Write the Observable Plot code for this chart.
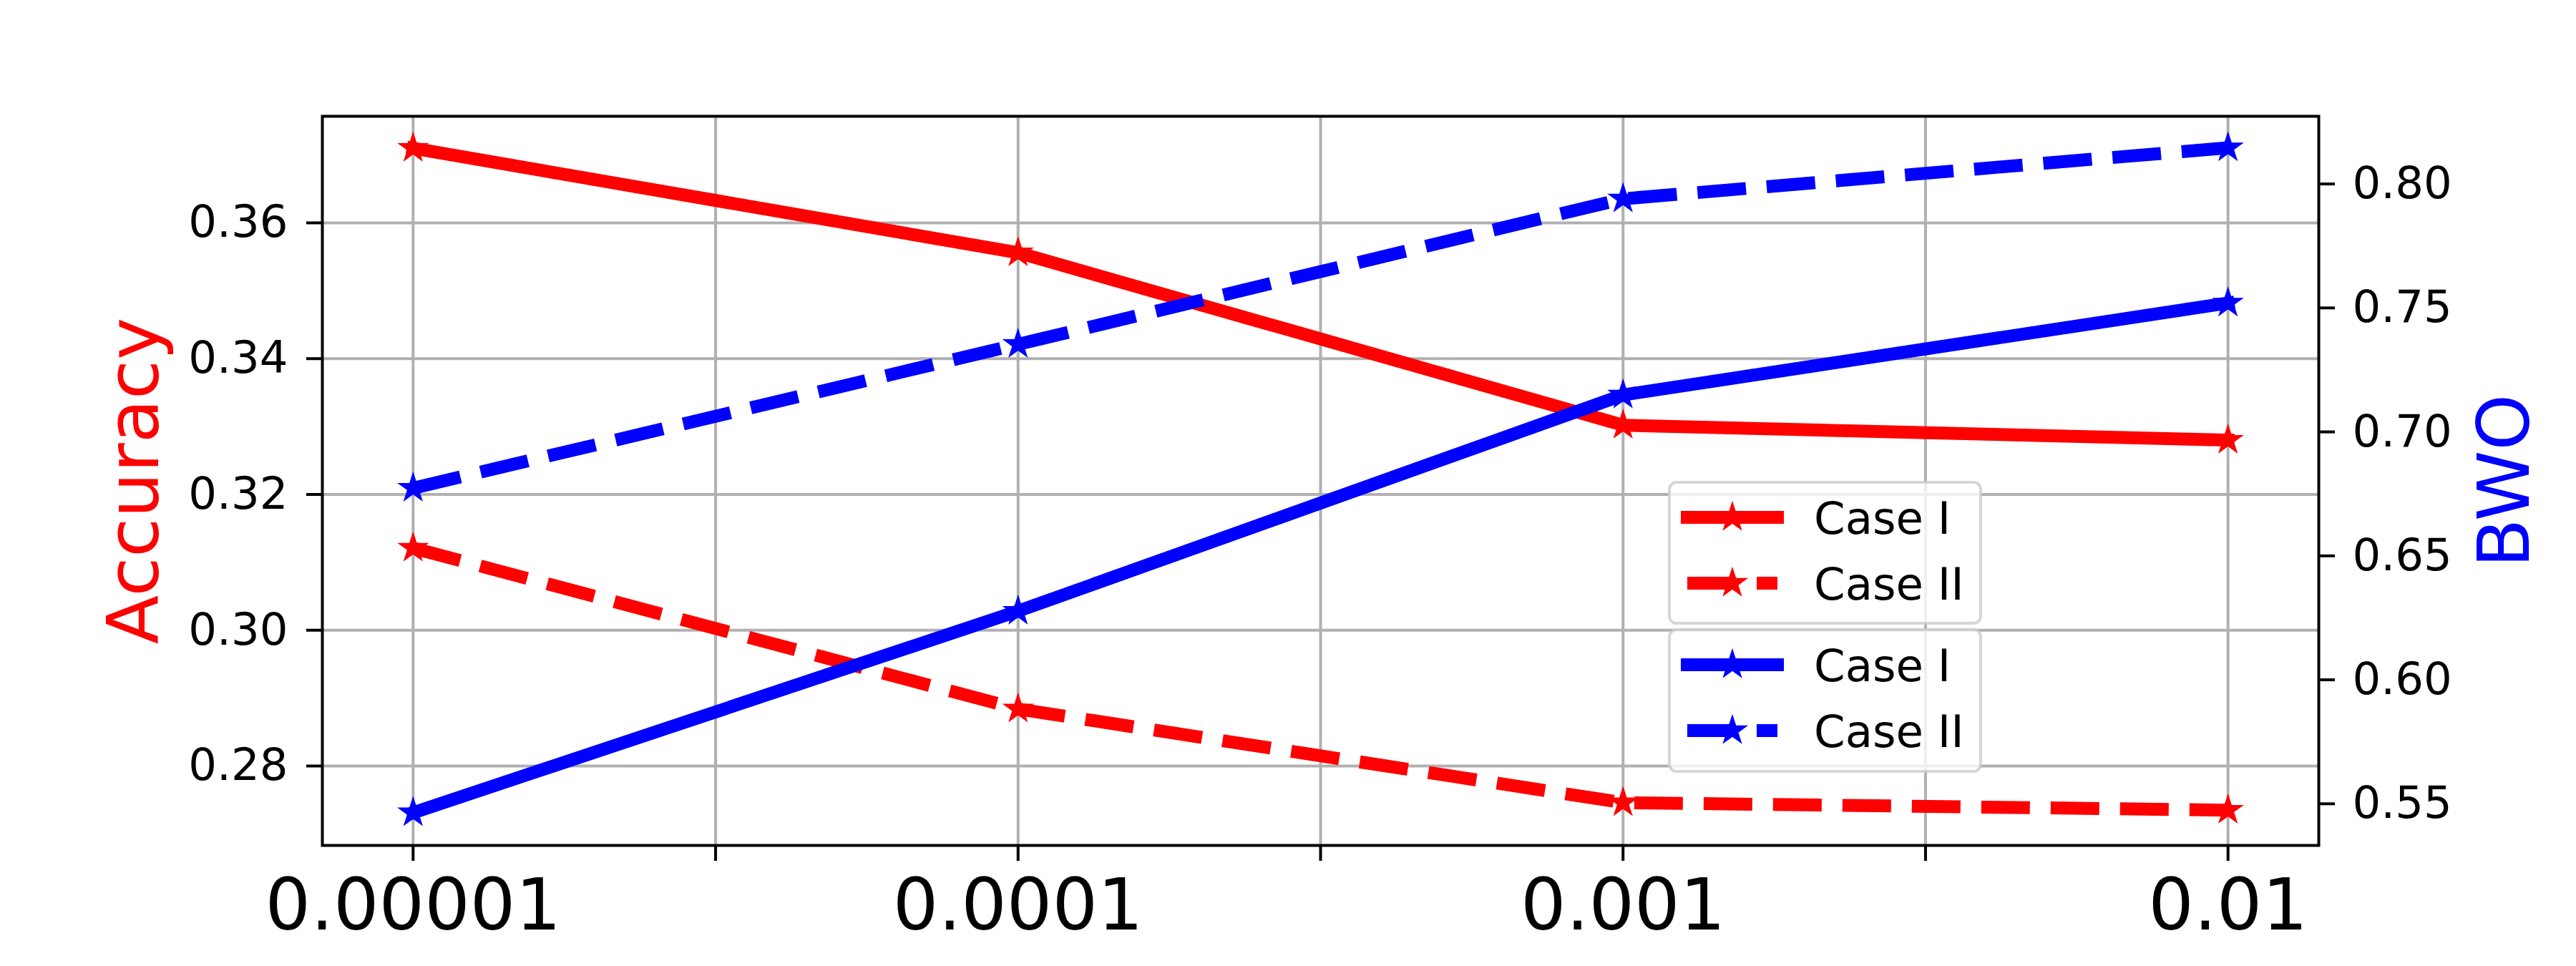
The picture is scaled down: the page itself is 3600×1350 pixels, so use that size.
<!DOCTYPE html>
<html><head><meta charset="utf-8">
<script src="https://cdn.jsdelivr.net/npm/d3@7"></script>
<script src="https://cdn.jsdelivr.net/npm/@observablehq/plot@0.6"></script>
<style>
html,body{margin:0;padding:0;background:#fff;}
#wrap{position:relative;width:3600px;height:1350px;}
#wrap > svg{position:absolute;left:0;top:0;}
</style></head><body><div id="wrap"></div>
<script>
// ---- data ----
const xLabels = ["0.00001", "0.0001", "0.001", "0.01"];
const xPositions = [0, 1, 2, 3];
const xTicks = [0, 0.5, 1, 1.5, 2, 2.5, 3];
const accTicks = [0.28, 0.30, 0.32, 0.34, 0.36];
const bwoTicks = [0.55, 0.60, 0.65, 0.70, 0.75, 0.80];
const seriesNames = ["Case I", "Case II"];
const accCaseI  = [0.3710, 0.3556, 0.3302, 0.3280];
const accCaseII = [0.3121, 0.2884, 0.2746, 0.2735];
const bwoCaseI  = [0.5464, 0.6277, 0.7149, 0.7520];
const bwoCaseII = [0.6773, 0.7353, 0.7940, 0.8146];
const accDomain = [0.2683, 0.3757];
const bwoDomain = [0.5332, 0.8273];

// ---- layout / style ----
const W = 3600, H = 1350;
const margins = {marginLeft: 450, marginRight: 360, marginTop: 162, marginBottom: 169};
const xScale = {type: "linear", domain: [-0.15, 3.15]};
const LW = 18, DASH = "68,29", STAR_R = 11;
const FONT = "DejaVu Sans";
const baseStyle = {fontFamily: FONT, fontSize: "62.5px", background: "transparent", overflow: "visible"};

function rows(values, series) {
  return values.map((v, i) => ({x: xPositions[i], label: xLabels[i], v, series}));
}
const acc1 = rows(accCaseI, seriesNames[0]);
const acc2 = rows(accCaseII, seriesNames[1]);
const bwo1 = rows(bwoCaseI, seriesNames[0]);
const bwo2 = rows(bwoCaseII, seriesNames[1]);

const gridStyle = {stroke: "#b0b0b0", strokeOpacity: 1, strokeWidth: 4};

function seriesMarks(r1, r2, color) {
  return [
    Plot.line(r1, {x: "x", y: "v", stroke: color, strokeWidth: LW, strokeLinejoin: "round", strokeLinecap: "square"}),
    Plot.dot(r1, {x: "x", y: "v", symbol: "star", r: STAR_R, fill: color, stroke: color, strokeWidth: 3}),
    Plot.line(r2, {x: "x", y: "v", stroke: color, strokeWidth: LW, strokeLinejoin: "round", strokeLinecap: "butt", strokeDasharray: DASH}),
    Plot.dot(r2, {x: "x", y: "v", symbol: "star", r: STAR_R, fill: color, stroke: color, strokeWidth: 3})
  ];
}

const base = Plot.plot({
  width: W, height: H, ...margins,
  x: xScale,
  y: {domain: accDomain},
  style: baseStyle,
  marks: [
    Plot.gridX(xTicks, gridStyle),
    Plot.gridY(accTicks, gridStyle),
    ...seriesMarks(acc1, acc2, "red"),
    Plot.frame({stroke: "black", strokeWidth: 4}),
    Plot.axisY(accTicks, {anchor: "left", tickSize: 22, tickPadding: 26, tickFormat: d3.format(".2f"),
      fontSize: 62.5, strokeWidth: 4, label: null}),
    Plot.axisX(xTicks, {anchor: "bottom", tickSize: 22, tickPadding: 24,
      tickFormat: d => Number.isInteger(d) ? xLabels[d] : "", fontSize: 100, strokeWidth: 4, label: null}),
    Plot.text(["Accuracy"], {frameAnchor: "left", text: d => d, rotate: -90, dx: -230,
      fill: "red", fontSize: 100, lineAnchor: "bottom", textAnchor: "middle"})
  ]
});

const twin = Plot.plot({
  width: W, height: H, ...margins,
  x: {...xScale, axis: null},
  y: {domain: bwoDomain},
  style: baseStyle,
  marks: [
    ...seriesMarks(bwo1, bwo2, "blue"),
    Plot.axisY(bwoTicks, {anchor: "right", tickSize: 22, tickPadding: 25, tickFormat: d3.format(".2f"),
      fontSize: 62.5, strokeWidth: 4, label: null}),
    Plot.text(["BWO"], {frameAnchor: "right", text: d => d, rotate: -90, dx: 293,
      fill: "blue", fontSize: 100, lineAnchor: "bottom", textAnchor: "middle"})
  ]
});

const wrap = document.getElementById("wrap");
wrap.appendChild(base);
wrap.appendChild(twin);

// ---- legends (two boxes, as in the reference) ----
const legendGroups = [
  {top: 672, h: 201, entries: [{color: "red", dashed: false, label: seriesNames[0]}, {color: "red", dashed: true, label: seriesNames[1]}]},
  {top: 878, h: 202, entries: [{color: "blue", dashed: false, label: seriesNames[0]}, {color: "blue", dashed: true, label: seriesNames[1]}]}
];
const boxLeft = 2331, boxRight = 2770;
const lg = d3.select(wrap).append("svg").attr("width", W).attr("height", H)
  .style("position", "absolute").style("left", 0).style("top", 0).style("pointer-events", "none");
const starPath = d3.symbol(d3.symbolStar, Math.PI * STAR_R * STAR_R)();
legendGroups.forEach(g => {
  lg.append("rect").attr("x", boxLeft + 2).attr("y", g.top + 2)
    .attr("width", boxRight - boxLeft - 4).attr("height", g.h - 4)
    .attr("rx", 10).attr("ry", 10)
    .attr("fill", "white").attr("fill-opacity", 0.8)
    .attr("stroke", "#cccccc").attr("stroke-opacity", 0.8).attr("stroke-width", 4);
  g.entries.forEach((e, k) => {
    const cy = g.top + 51 + k * 92;
    lg.append("line").attr("x1", 2358).attr("x2", 2484).attr("y1", cy).attr("y2", cy)
      .attr("stroke", e.color).attr("stroke-width", LW)
      .attr("stroke-linecap", e.dashed ? "butt" : "square")
      .attr("stroke-dasharray", e.dashed ? DASH : null);
    lg.append("path").attr("d", starPath).attr("transform", `translate(2421,${cy})`)
      .attr("fill", e.color).attr("stroke", e.color).attr("stroke-width", 3);
    lg.append("text").attr("x", 2535).attr("y", cy + 23)
      .attr("font-family", FONT).attr("font-size", 62.5).attr("fill", "black").text(e.label);
  });
});
</script>
</body></html>
